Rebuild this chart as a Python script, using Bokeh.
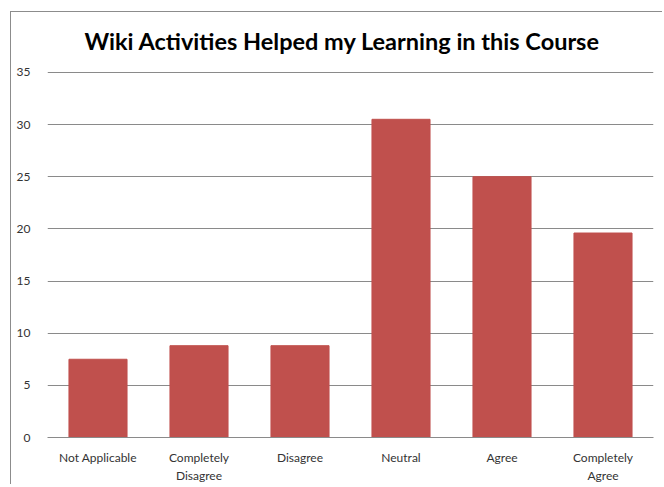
from bokeh.plotting import figure
from bokeh.models import FixedTicker, Label
from bokeh.embed import file_html
from bokeh.resources import INLINE

categories = ["Not Applicable", "Completely\nDisagree", "Disagree", "Neutral", "Agree", "Completely\nAgree"]
values = [7.5, 8.8, 8.8, 30.5, 25.0, 19.6]
y_ticks = [0, 5, 10, 15, 20, 25, 30, 35]
title_text = "Wiki Activities Helped my Learning in this Course"

# y range extends above 35 to leave room for the title inside the frame
p = figure(x_range=categories, y_range=(0, 39.97), width=652, height=473,
           output_backend="svg", toolbar_location=None,
           min_border_left=36, min_border_right=10, min_border_top=8, min_border_bottom=40)
p.margin = (11, 0, 0, 10)
p.styles = {"border-top": "1px solid #8c8c8c", "border-left": "1px solid #8c8c8c"}

p.vbar(x=categories, top=values, width=0.575, color="#C0504D")

title = Label(x=2.92, y=37.96, text=title_text, text_font="Lato", text_font_size="23.5px",
              text_font_style="bold", text_color="#000000", text_align="center",
              text_baseline="middle")
p.add_layout(title)

p.outline_line_color = None
p.xgrid.grid_line_color = None
p.ygrid.grid_line_color = "#8a8a8a"
p.ygrid.grid_line_width = 1
p.yaxis.ticker = FixedTicker(ticks=y_ticks)

for ax in (p.xaxis, p.yaxis):
    ax.major_tick_line_color = None
    ax.minor_tick_line_color = None
    ax.major_label_text_font = "Lato"
    ax.major_label_text_font_size = "12px"
    ax.major_label_text_color = "#333333"
    ax.major_label_standoff = 11
p.yaxis.axis_line_color = None
p.xaxis.axis_line_color = "#8a8a8a"
p.xaxis.major_label_standoff = 6

open("out.html", "w").write(file_html(p, INLINE))
